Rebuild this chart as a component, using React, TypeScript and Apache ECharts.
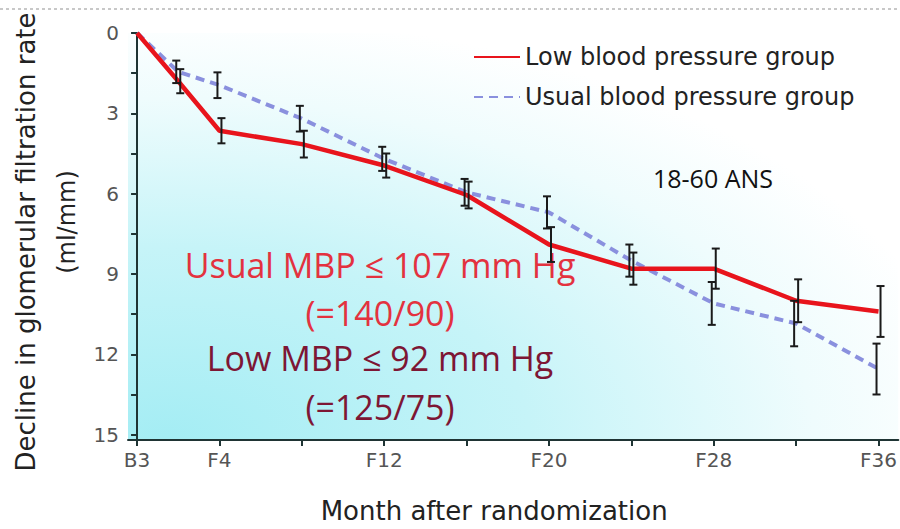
import React, { useEffect, useRef } from 'react';
import * as echarts from 'echarts';

// ---- data ----
const tickLabels = ['B3', 'F4', 'F8', 'F12', 'F16', 'F20', 'F24', 'F28', 'F32', 'F36'];
const tickPositions = [0, 1, 2, 3, 4, 5, 6, 7, 8, 9];
const labelledTicks = [0, 1, 3, 5, 7, 9];
const visitPos = [0, 0.5, 1, 2, 3, 4, 5, 6, 7, 8, 9];
const lowMean = [0, 1.8, 3.65, 4.15, 4.95, 6.05, 7.9, 8.8, 8.8, 10.0, 10.4];
const lowErr = [null, 0.45, 0.47, 0.5, 0.45, 0.5, 0.65, 0.6, 0.75, 0.8, 0.95];
const usualMean = [0, 1.45, 1.95, 3.2, 4.7, 5.95, 6.7, 8.5, 10.1, 10.85, 12.55];
const usualErr = [null, 0.42, 0.48, 0.48, 0.45, 0.5, 0.6, 0.6, 0.8, 0.85, 0.95];
const yTicks = [0, 1.5, 3, 4.5, 6, 7.5, 9, 10.5, 12, 13.5, 15];
const yLabels = [0, 3, 6, 9, 12, 15];
const lowName = 'Low blood pressure group';
const usualName = 'Usual blood pressure group';
const noteUsual = ['Usual MBP ≤ 107 mm Hg', '(=140/90)'];
const noteLow = ['Low MBP ≤ 92 mm Hg', '(=125/75)'];
const ageNote = '18-60 ANS';
const yTitle = ['Decline in glomerular filtration rate', '(ml/mm)'];
const xTitle = 'Month after randomization';

const AXIS = '#1f3434';
const LABEL_FONT = 'DejaVu Sans';

function errorBars(name: string, means: number[], errs: (number | null)[], dx: number) {
  const data: number[][] = [];
  visitPos.forEach((x, i) => {
    const e = errs[i];
    if (e != null) data.push([x, means[i] - e, means[i] + e]);
  });
  return {
    type: 'custom',
    name,
    z: 5,
    silent: true,
    encode: { x: 0, y: [1, 2] },
    data,
    renderItem: (_params: any, api: any) => {
      const x = api.value(0);
      const p1 = api.coord([x, api.value(1)]);
      const p2 = api.coord([x, api.value(2)]);
      const cx = p1[0] + dx;
      const cap = 4;
      const style = { stroke: '#1a1a1a', lineWidth: 2 };
      return {
        type: 'group',
        children: [
          { type: 'line', shape: { x1: cx, y1: p1[1], x2: cx, y2: p2[1] }, style },
          { type: 'line', shape: { x1: cx - cap, y1: p1[1], x2: cx + cap, y2: p1[1] }, style },
          { type: 'line', shape: { x1: cx - cap, y1: p2[1], x2: cx + cap, y2: p2[1] }, style },
        ],
      };
    },
  };
}

export default function App() {
  const ref = useRef<HTMLDivElement>(null);
  useEffect(() => {
    if (!ref.current) return;
    const chart = echarts.init(ref.current, undefined, { renderer: 'svg' });
    const text = (t: string, x: number, y: number, size: number, color: string, family: string, rot = 0) => ({
      type: 'text',
      x,
      y,
      rotation: rot,
      style: {
        text: t,
        fill: color,
        fontSize: size,
        fontFamily: family,
        align: 'center',
        verticalAlign: 'middle',
        textAlign: 'center',
        textVerticalAlign: 'middle',
      },
    });
    chart.setOption({
      animation: false,
      backgroundColor: '#ffffff',
      grid: {
        left: 128,
        right: 0,
        top: 33,
        bottom: 78,
        show: true,
        borderWidth: 0,
        backgroundColor: {
          type: 'radial',
          x: 0.05,
          y: 1,
          r: 1.05,
          colorStops: [
            { offset: 0, color: '#a4edf4' },
            { offset: 0.45, color: '#c6f4f8' },
            { offset: 0.8, color: '#effcfd' },
            { offset: 1, color: '#ffffff' },
          ],
        },
      },
      legend: {
        orient: 'vertical',
        left: 468,
        top: 40,
        itemWidth: 46,
        itemHeight: 14,
        itemGap: 16,
        itemStyle: { opacity: 0 },
        data: [lowName, usualName],
        textStyle: { fontSize: 24, fontFamily: LABEL_FONT, color: '#222' },
      },
      xAxis: {
        type: 'value',
        min: -0.11,
        max: 9.24,
        splitLine: { show: false },
        axisLine: { show: true, onZero: false, lineStyle: { color: AXIS, width: 2 } },
        axisTick: { show: true, customValues: tickPositions, length: 6, lineStyle: { color: AXIS, width: 2 } },
        axisLabel: {
          customValues: labelledTicks,
          formatter: (v: number) => tickLabels[Math.round(v)],
          color: '#555',
          fontSize: 20,
          fontFamily: LABEL_FONT,
          margin: 10,
        },
        name: xTitle,
        nameLocation: 'middle',
        nameGap: 58,
        nameTextStyle: { fontSize: 26, fontFamily: LABEL_FONT, color: '#222', padding: [0, 38, 0, 0] },
      },
      yAxis: {
        type: 'value',
        inverse: true,
        min: 0,
        max: 15.2,
        splitLine: { show: false },
        axisLine: { show: true, lineStyle: { color: AXIS, width: 2 } },
        axisTick: { show: true, customValues: yTicks, length: 6, lineStyle: { color: AXIS, width: 2 } },
        axisLabel: {
          customValues: yLabels,
          color: '#555',
          fontSize: 20,
          fontFamily: LABEL_FONT,
          margin: 9,
        },
      },
      graphic: [
        {
          type: 'line',
          shape: { x1: 0, y1: 9, x2: 900, y2: 9 },
          style: { stroke: '#c8c8c8', lineWidth: 2, lineDash: [3, 3] },
        },
        text(yTitle[0], 26, 242, 26, '#222', LABEL_FONT, Math.PI / 2),
        text(yTitle[1], 67, 222, 24, '#222', LABEL_FONT, Math.PI / 2),
        text(noteUsual[0], 380, 265, 34, '#e3323f', 'Open Sans'),
        text(noteUsual[1], 380, 313, 34, '#e3323f', 'Open Sans'),
        text(noteLow[0], 380, 358, 34, '#7d1634', 'Open Sans'),
        text(noteLow[1], 380, 407, 34, '#7d1634', 'Open Sans'),
        text(ageNote, 713, 178, 25, '#111', 'Open Sans'),
      ],
      series: [
        {
          type: 'line',
          name: usualName,
          data: visitPos.map((x, i) => [x, usualMean[i]]),
          symbol: 'none',
          z: 3,
          lineStyle: { color: '#8a90de', width: 4, type: [9, 6] },
          itemStyle: { color: '#8a90de' },
        },
        {
          type: 'line',
          name: lowName,
          data: visitPos.map((x, i) => [x, lowMean[i]]),
          symbol: 'none',
          z: 4,
          lineStyle: { color: '#e8141c', width: 4.5 },
          itemStyle: { color: '#e8141c' },
        },
        errorBars('usual-err', usualMean, usualErr, -2),
        errorBars('low-err', lowMean, lowErr, 2),
      ],
    });
    return () => chart.dispose();
  }, []);
  return <div ref={ref} style={{ position: 'fixed', left: 0, top: 0, width: 900, height: 529 }} />;
}
